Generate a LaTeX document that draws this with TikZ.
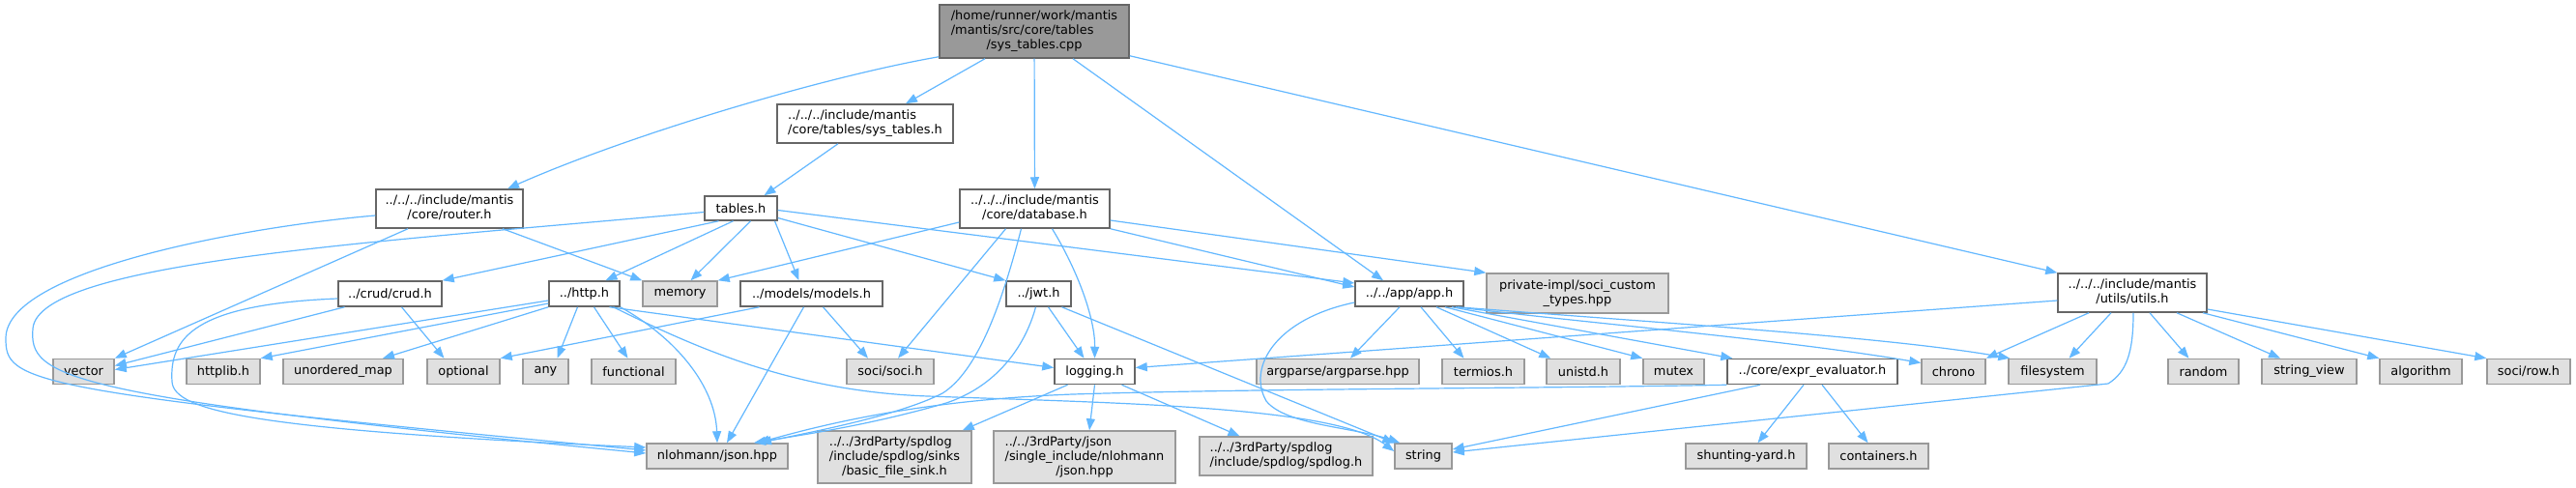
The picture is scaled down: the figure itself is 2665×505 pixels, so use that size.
\documentclass[tikz,border=0pt]{standalone}
\usepackage{fontspec}
\setmainfont{DejaVu Sans}
\usetikzlibrary{arrows.meta}

\definecolor{edgeblue}{HTML}{63B8FF}
\definecolor{boxline}{HTML}{666666}
\definecolor{sysline}{HTML}{999999}
\definecolor{sysfill}{HTML}{E0E0E0}
\definecolor{mainfill}{HTML}{999999}

\newcommand{\lbltwo}[2]{\begin{tabular}{@{}l@{}}#1\\\multicolumn{1}{@{}c@{}}{#2}\end{tabular}}
\newcommand{\lblthree}[3]{\begin{tabular}{@{}l@{}}#1\\#2\\\multicolumn{1}{@{}c@{}}{#3}\end{tabular}}

\tikzset{
  file/.style={draw=boxline, fill=white, line width=1.5pt, inner sep=0pt,
    font=\fontsize{12.9}{15}\selectfont, minimum height=26},
  sysfile/.style={file, draw=sysline, fill=sysfill},
  mainfile/.style={file, fill=mainfill},
  dep/.style={draw=edgeblue, line width=1.2pt, -{Triangle[length=12pt,width=9pt]}}
}

\begin{document}
\begin{tikzpicture}[x=1pt,y=-1pt]
  \fill[white] (0,0) rectangle (2665,505);
  \useasboundingbox (0,0) rectangle (2665,505);

  % top levels
  \node[mainfile, minimum width=196, minimum height=55] (cpp) at (1070,32.5) {\lblthree{/home/runner/work/mantis}{/mantis/src/core/tables}{/sys\_tables.cpp}};
  \node[file, minimum width=182, minimum height=40] (systh) at (895,128) {\lbltwo{../../../include/mantis}{/core/tables/sys\_tables.h}};
  \node[file, minimum width=152, minimum height=40] (router) at (465,216) {\lbltwo{../../../include/mantis}{/core/router.h}};
  \node[file, minimum width=75, minimum height=25] (tables) at (766.5,215.5) {tables.h};
  \node[file, minimum width=155, minimum height=40] (db) at (1070.5,216) {\lbltwo{../../../include/mantis}{/core/database.h}};

  % middle row
  \node[file, minimum width=107] (crud) at (403.5,304) {../crud/crud.h};
  \node[file, minimum width=73] (http) at (604.5,304) {../http.h};
  \node[sysfile, minimum width=77] (memory) at (703.5,304) {memory};
  \node[file, minimum width=147] (models) at (839.5,304) {../models/models.h};
  \node[file, minimum width=67] (jwt) at (1074.5,304) {../jwt.h};
  \node[file, minimum width=112] (app) at (1458,304) {../../app/app.h};
  \node[sysfile, minimum width=188, minimum height=41] (priv) at (1632,303.5) {\lbltwo{private-impl/soci\_custom}{\_types.hpp}};
  \node[file, minimum width=154, minimum height=40] (utils) at (2206,303) {\lbltwo{../../../include/mantis}{/utils/utils.h}};

  % lower row
  \node[sysfile, minimum width=63] (vector) at (86.5,384.5) {vector};
  \node[sysfile, minimum width=76] (httplib) at (231,384.5) {httplib.h};
  \node[sysfile, minimum width=124] (umap) at (355,384.5) {unordered\_map};
  \node[sysfile, minimum width=75] (optional) at (479.5,384.5) {optional};
  \node[sysfile, minimum width=47] (any) at (564.5,384.5) {any};
  \node[sysfile, minimum width=87] (functional) at (655.5,384.5) {functional};
  \node[sysfile, minimum width=90] (soci) at (921,384.5) {soci/soci.h};
  \node[file, minimum width=83] (logging) at (1132.5,384.5) {logging.h};
  \node[sysfile, minimum width=168] (argparse) at (1384,384.5) {argparse/argparse.hpp};
  \node[sysfile, minimum width=85] (termios) at (1534.5,384.5) {termios.h};
  \node[sysfile, minimum width=76] (unistd) at (1638,384.5) {unistd.h};
  \node[sysfile, minimum width=63] (mutex) at (1731.5,384.5) {mutex};
  \node[file, minimum width=176] (expr) at (1875,384.5) {../core/expr\_evaluator.h};
  \node[sysfile, minimum width=66] (chrono) at (2021,384.5) {chrono};
  \node[sysfile, minimum width=91] (fs) at (2123.5,384.5) {filesystem};
  \node[sysfile, minimum width=73] (random) at (2279.5,384.5) {random};
  \node[sysfile, minimum width=98] (sview) at (2389,384.5) {string\_view};
  \node[sysfile, minimum width=85] (algo) at (2504.5,384.5) {algorithm};
  \node[sysfile, minimum width=86] (row) at (2616,384.5) {soci/row.h};

  % bottom row
  \node[sysfile, minimum width=146] (njson) at (742,472) {nlohmann/json.hpp};
  \node[sysfile, minimum width=159, minimum height=54] (sink) at (925.5,473) {\lblthree{../../3rdParty/spdlog}{/include/spdlog/sinks}{/basic\_file\_sink.h}};
  \node[sysfile, minimum width=188, minimum height=54] (tjson) at (1122,473) {\lblthree{../../3rdParty/json}{/single\_include/nlohmann}{/json.hpp}};
  \node[sysfile, minimum width=179, minimum height=40] (spdlog) at (1330.5,472) {\lbltwo{../../3rdParty/spdlog}{/include/spdlog/spdlog.h}};
  \node[sysfile, minimum width=59] (string) at (1472.5,472) {string};
  \node[sysfile, minimum width=125] (shunt) at (1806.5,472) {shunting-yard.h};
  \node[sysfile, minimum width=103] (cont) at (1943.5,472) {containers.h};

  % sys_tables.cpp
  \draw[dep] ([yshift=2]cpp.south west) .. controls (850,80) and (650,140) .. ([xshift=60]router.north);
  \draw[dep] ([xshift=-51]cpp.south) -- ([xshift=42]systh.north);
  \draw[dep] (cpp) -- (db);
  \draw[dep] ([xshift=40]cpp.south) -- ([xshift=-27]app.north);
  \draw[dep] ([yshift=3]cpp.south east) -- (utils.north west);
  \draw[dep] ([xshift=-28]systh.south) -- ([xshift=24]tables.north);

  % router.h
  \draw[dep] ([yshift=-7]router.west) .. controls (250,235) and (6,280) .. (6,350) .. controls (6,395) and (20,405) .. ([yshift=6]njson.west);
  \draw[dep] ([xshift=-43]router.south) -- (vector.north east);
  \draw[dep] ([xshift=55]router.south) -- (memory.north west);

  % tables.h
  \draw[dep] ([yshift=-4]tables.west) .. controls (400,250) and (40,270) .. (34,340) .. controls (30,390) and (60,410) .. ([yshift=3]njson.west);
  \draw[dep] ([xshift=-23]tables.south) -- (crud.north east);
  \draw[dep] ([xshift=-8]tables.south) -- ([xshift=22]http.north);
  \draw[dep] ([xshift=10]tables.south) -- ([xshift=11]memory.north);
  \draw[dep] ([xshift=35]tables.south) -- ([xshift=-13]models.north);
  \draw[dep] ([yshift=-10]tables.east) -- (jwt.north west);
  \draw[dep] ([yshift=-2]tables.east) -- ([yshift=11]app.west);

  % database.h
  \draw[dep] ([yshift=-14]db.west) -- (memory.north east);
  \draw[dep] ([xshift=-30]db.south) -- ([xshift=8]soci.north);
  \draw[dep] ([xshift=-14]db.south) .. controls (1035,320) and (1010,385) .. (975,407) .. controls (930,430) and (840,447) .. ([xshift=44]njson.north);
  \draw[dep] ([xshift=18]db.south) .. controls (1115,280) and (1133,330) .. (logging.north);
  \draw[dep] (db.south east) -- ([yshift=7]app.west);
  \draw[dep] ([yshift=-12]db.east) -- (priv.north west);

  % crud.h
  \draw[dep] ([yshift=-5]crud.west) .. controls (200,315) and (175,350) .. (178,395) .. controls (180,425) and (260,445) .. ([yshift=9]njson.west);
  \draw[dep] ([xshift=-47]crud.south) -- ([yshift=6]vector.east);
  \draw[dep] ([xshift=12]crud.south) -- ([xshift=-20]optional.north);

  % http.h
  \draw[dep] ([yshift=-7]http.west) -- ([yshift=2]vector.east);
  \draw[dep] ([yshift=-10]http.west) -- (httplib.north east);
  \draw[dep] (http.south west) -- ([xshift=41]umap.north);
  \draw[dep] ([xshift=-7]http.south) -- ([xshift=12]any.north);
  \draw[dep] ([xshift=10]http.south) -- ([xshift=-6]functional.north);
  \draw[dep] ([xshift=26]http.south) -- ([yshift=4]logging.west);
  \draw[dep] (http.south east) .. controls (700,350) and (740,400) .. (njson.north);
  \draw[dep] ([xshift=30]http.south) .. controls (720,360) and (820,405) .. (960,410) .. controls (1150,417) and (1380,420) .. ([yshift=5]string.west);

  % models.h
  \draw[dep] ([xshift=-54]models.south) -- (optional.north east);
  \draw[dep] ([xshift=-8]models.south) -- ([xshift=10]njson.north);
  \draw[dep] ([xshift=12]models.south) -- ([xshift=-23]soci.north);

  % jwt.h
  \draw[dep] ([xshift=10]jwt.south) -- ([xshift=-11]logging.north);
  \draw[dep] ([xshift=24]jwt.south) -- (string.north west);
  \draw[dep] ([xshift=-3]jwt.south) .. controls (1060,360) and (1030,400) .. (979,417) .. controls (900,440) and (830,450) .. ([xshift=38]njson.north);

  % app.h
  \draw[dep] ([yshift=-9]app.west) .. controls (1320,330) and (1290,380) .. (1310,415) .. controls (1330,440) and (1400,442) .. ([xshift=6]string.north west);
  \draw[dep] ([xshift=-10]app.south) -- ([xshift=13]argparse.north);
  \draw[dep] ([xshift=12]app.south) -- ([xshift=-20]termios.north);
  \draw[dep] ([xshift=28]app.south) -- ([xshift=5]unistd.north west);
  \draw[dep] ([xshift=37]app.south) -- (mutex.north west);
  \draw[dep] ([xshift=44]app.south) -- ([xshift=6]expr.north west);
  \draw[dep] ([xshift=48]app.south) .. controls (1650,335) and (1850,352) .. ([yshift=9]chrono.west);
  \draw[dep] ([xshift=50]app.south) .. controls (1700,333) and (1950,348) .. ([xshift=2]fs.north west);

  % utils.h
  \draw[dep] ([yshift=-8]utils.west) -- ([yshift=4]logging.east);
  \draw[dep] ([xshift=-45]utils.south) -- (chrono.north east);
  \draw[dep] ([xshift=-22]utils.south) -- ([xshift=17]fs.north);
  \draw[dep] ([xshift=18]utils.south) -- ([xshift=-15]random.north);
  \draw[dep] ([xshift=46]utils.south) -- ([xshift=-30]sview.north);
  \draw[dep] ([xshift=73]utils.south) -- (algo.north west);
  \draw[dep] ([yshift=-17]utils.east) -- (row.north west);
  \draw[dep] ([xshift=1]utils.south) .. controls (2207,365) and (2200,385) .. (2181,397) -- ([yshift=4]string.east);

  % expr_evaluator.h
  \draw[dep] ([xshift=-9]expr.south) -- ([xshift=12]shunt.north);
  \draw[dep] ([xshift=10]expr.south) -- ([xshift=-11]cont.north);
  \draw[dep] ([xshift=-54]expr.south) -- ([yshift=7]string.east);
  \draw[dep] (expr.south west) .. controls (1600,402) and (1300,402) .. (1110,408) .. controls (950,414) and (850,440) .. ([xshift=42]njson.north);

  % logging.h
  \draw[dep] ([xshift=-28]logging.south) -- ([xshift=-10]sink.north east);
  \draw[dep] (logging.south) -- ([xshift=5]tjson.north);
  \draw[dep] ([xshift=28]logging.south) -- ([xshift=-48]spdlog.north);
\end{tikzpicture}
\end{document}
